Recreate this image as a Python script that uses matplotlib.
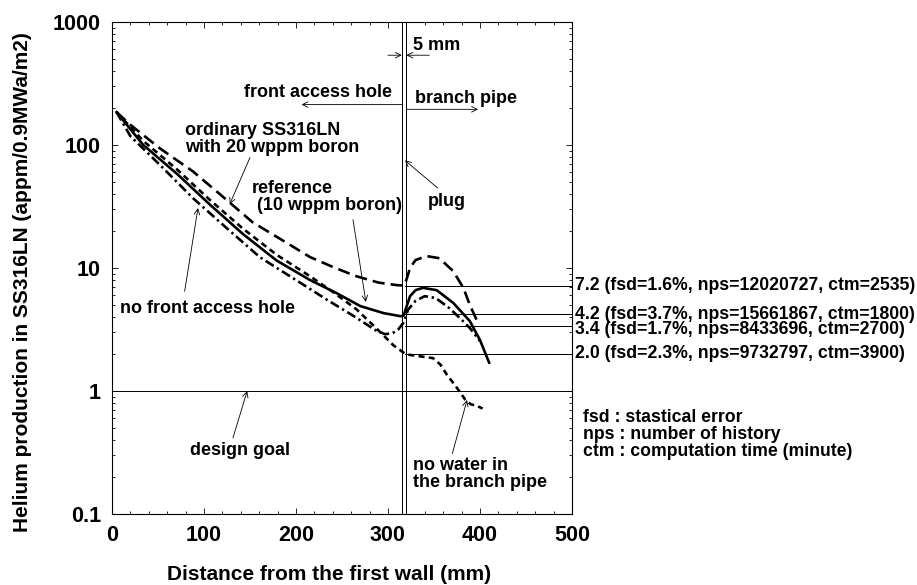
import numpy as np
import matplotlib.pyplot as plt

plt.rcParams['font.family'] = ['Liberation Sans', 'DejaVu Sans']
plt.rcParams['font.weight'] = 'bold'

# ---- data ----
# ordinary SS316LN with 20 wppm boron (long dashes)
x_ord = [5, 20, 52, 88, 117, 153, 190, 215, 240, 265, 290, 310, 318, 320, 324, 330, 342, 356, 371, 382, 389, 397]
y_ord = [185, 146, 94, 61, 40, 23.5, 16, 12.3, 10.2, 8.6, 7.6, 7.25, 7.2, 8.0, 10.0, 11.6, 12.5, 12.0, 9.4, 6.9, 5.0, 3.7]

# reference (10 wppm boron) (solid)
x_ref = [5, 34, 71, 106, 142, 179, 215, 245, 270, 295, 314, 317, 320, 324, 330, 338, 353, 371, 389, 400, 410]
y_ref = [185, 100, 58, 33, 19, 11.5, 8.0, 6.2, 4.9, 4.3, 4.05, 4.1, 4.8, 5.9, 6.6, 6.9, 6.6, 5.2, 3.7, 2.6, 1.7]

# no front access hole (dash-dot)
x_nf = [5, 20, 52, 88, 125, 161, 201, 234, 262, 288, 297, 305, 311, 317, 322, 330, 340, 352, 367, 380, 389, 400]
y_nf = [185, 118, 69, 37, 21, 12.2, 7.9, 5.5, 4.1, 3.07, 2.9, 2.95, 3.15, 3.6, 4.6, 5.4, 5.9, 5.7, 4.7, 3.8, 3.25, 2.55]

# no water in the branch pipe (short dashes)
x_nw = [5, 34, 71, 106, 142, 179, 215, 240, 266, 288, 306, 317, 321, 327, 349, 357, 364, 375, 384, 390, 396, 403]
y_nw = [185, 108, 63, 36, 21, 12.8, 8.6, 6.4, 4.6, 3.2, 2.35, 2.05, 1.98, 1.95, 1.85, 1.64, 1.36, 1.06, 0.85, 0.78, 0.76, 0.72]

plug_x = [315, 320]
design_goal = 1.0
branch_vals = [7.2, 4.2, 3.4, 2.0]
branch_labels = ['7.2 (fsd=1.6%, nps=12020727, ctm=2535)',
                 '4.2 (fsd=3.7%, nps=15661867, ctm=1800)',
                 '3.4 (fsd=1.7%, nps=8433696, ctm=2700)',
                 '2.0 (fsd=2.3%, nps=9732797, ctm=3900)']
label_y = [7.2, 4.2, 3.15, 2.0]

fig = plt.figure(figsize=(9.17, 5.85), dpi=100)
ax = fig.add_axes([0.1221, 0.1214, 0.5016, 0.841])

lw = 1.9
ax.plot(x_ord, y_ord, color='black', lw=lw, dashes=(4.6, 2.3))
ax.plot(x_ref, y_ref, color='black', lw=lw)
ax.plot(x_nf, y_nf, color='black', lw=lw, dashes=(3.6, 1.4, 0.9, 1.4))
ax.plot(x_nw, y_nw, color='black', lw=lw, dashes=(2.3, 1.6))

# plug lines and reference levels
for px in plug_x:
    ax.axvline(px, color='black', lw=0.7)
ax.plot([0, 500], [design_goal, design_goal], color='black', lw=0.7)
for v in branch_vals:
    ax.plot([318, 500], [v, v], color='black', lw=0.7)

ax.set_yscale('log')
ax.set_xlim(0, 500)
ax.set_ylim(0.1, 1000)
ax.set_xticks([0, 100, 200, 300, 400, 500])
ax.set_xticks(np.arange(0, 501, 20), minor=True)
ax.set_yticks([0.1, 1, 10, 100, 1000])
ax.set_yticklabels(['0.1', '1', '10', '100', '1000'])
ax.tick_params(which='both', direction='in', top=True, right=True, width=0.6)
ax.tick_params(which='major', length=4, labelsize=15.5, pad=8)
ax.tick_params(which='minor', length=2.5)
for lab in ax.get_xticklabels() + ax.get_yticklabels():
    lab.set_fontweight('bold')
for s in ax.spines.values():
    s.set_linewidth(0.8)

fs = 13
arr = dict(arrowstyle='->', lw=0.6, color='black', shrinkA=0, shrinkB=0)

# 5 mm
ax.text(327, 650, '5 mm', fontsize=fs, ha='left', va='center')
ax.annotate('', xy=(315, 537), xytext=(300, 537), arrowprops=arr)
ax.annotate('', xy=(320, 537), xytext=(345, 537), arrowprops=arr)

# front access hole / branch pipe
ax.text(304, 268, 'front access hole', fontsize=fs, ha='right', va='center')
ax.annotate('', xy=(206, 213), xytext=(315, 213), arrowprops=arr)
ax.text(329, 240, 'branch pipe', fontsize=fs, ha='left', va='center')
ax.annotate('', xy=(398, 195), xytext=(320, 195), arrowprops=arr)

# curve labels
ax.text(79, 112, 'ordinary SS316LN\nwith 20 wppm boron', fontsize=fs, ha='left', va='center',
        linespacing=1.0)
ax.annotate('', xy=(128, 33), xytext=(150, 79), arrowprops=arr)
ax.text(152, 37.5, 'reference\n (10 wppm boron)', fontsize=fs, ha='left', va='center',
        linespacing=1.0)
ax.annotate('', xy=(276, 5.3), xytext=(262, 24.7), arrowprops=arr)
ax.text(343.5, 35, 'plug', fontsize=fs, ha='left', va='center')
ax.annotate('', xy=(318.5, 75), xytext=(354, 44.7), arrowprops=arr)
ax.text(9, 4.7, 'no front access hole', fontsize=fs, ha='left', va='center')
ax.annotate('', xy=(93.5, 30.7), xytext=(79, 6.46), arrowprops=arr)
ax.text(85, 0.33, 'design goal', fontsize=fs, ha='left', va='center')
ax.annotate('', xy=(147, 1.0), xytext=(131.5, 0.416), arrowprops=arr)
ax.text(327, 0.21, 'no water in\nthe branch pipe', fontsize=fs, ha='left', va='center',
        linespacing=1.0)
ax.annotate('', xy=(386, 0.845), xytext=(370, 0.31), arrowprops=arr)

# values outside the frame
for lab, yv in zip(branch_labels, label_y):
    ax.text(503, yv, lab, fontsize=12.7, ha='left', va='center', clip_on=False)
ax.text(512, 0.44, 'fsd : stastical error\nnps : number of history\nctm : computation time (minute)',
        fontsize=12.7, ha='left', va='center', linespacing=1.0, clip_on=False)

fig.text(0.3588, 0.0171, 'Distance from the first wall (mm)', fontsize=15,
         ha='center', va='center', fontweight='bold')
fig.text(0.024, 0.518, 'Helium production in SS316LN (appm/0.9MWa/m2)', fontsize=15,
         ha='center', va='center', rotation=90, fontweight='bold')

fig.savefig('out.png', dpi=100)
